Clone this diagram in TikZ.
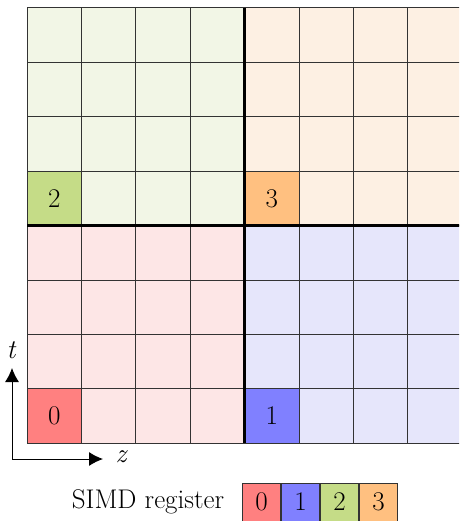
\documentclass[tikz,border=0pt]{standalone}
\usetikzlibrary{arrows.meta}
\definecolor{lgreen}{RGB}{242,246,230}
\definecolor{lorange}{RGB}{253,240,227}
\definecolor{lpink}{RGB}{253,230,230}
\definecolor{lblue}{RGB}{230,230,251}
\definecolor{sred}{RGB}{255,128,128}
\definecolor{sblue}{RGB}{128,128,255}
\definecolor{sgreen}{RGB}{197,220,135}
\definecolor{sorange}{RGB}{255,192,128}
\tikzset{
  lbl/.style={font=\rmfamily\fontsize{27}{32}\selectfont, inner sep=0pt},
  gridline/.style={line width=1pt, black!80},
  thickline/.style={line width=2.6pt, black},
  regbox/.style={draw=black!80, line width=1pt, minimum width=38pt, minimum height=38pt, inner sep=0pt, font=\rmfamily\fontsize{27}{32}\selectfont},
  axis/.style={line width=1pt, -{Latex[length=14pt,width=14pt]}}
}
\begin{document}
\begin{tikzpicture}[x=1pt,y=-1pt]
\useasboundingbox (0,0) rectangle (459,521);
\clip (0,0) rectangle (459,521);
\def\s{54.4}
% quadrants
\fill[lgreen] (27,8) rectangle ++(4*\s,4*\s);
\fill[lorange] (27+4*\s,8) rectangle ++(4*\s,4*\s);
\fill[lpink] (27,8+4*\s) rectangle ++(4*\s,4*\s);
\fill[lblue] (27+4*\s,8+4*\s) rectangle ++(4*\s,4*\s);
% strong cells
\fill[sgreen] (27,8+3*\s) rectangle ++(\s,\s);
\fill[sorange] (27+4*\s,8+3*\s) rectangle ++(\s,\s);
\fill[sred] (27,8+7*\s) rectangle ++(\s,\s);
\fill[sblue] (27+4*\s,8+7*\s) rectangle ++(\s,\s);
% grid
\foreach \i in {0,...,8} {
  \draw[gridline] (27+\i*\s,8) -- (27+\i*\s,8+8*\s);
  \draw[gridline] (27,8+\i*\s) -- (27+8*\s,8+\i*\s);
}
\draw[thickline] (27+4*\s,8) -- (27+4*\s,8+8*\s);
\draw[thickline] (27,8+4*\s) -- (27+8*\s,8+4*\s);
% labels
\node[lbl] (c2) at (27+0.5*\s,8+3.5*\s) {2};
\node[lbl] (c3) at (27+4.5*\s,8+3.5*\s) {3};
\node[lbl] (c0) at (27+0.5*\s,8+7.5*\s) {0};
\node[lbl] (c1) at (27+4.5*\s,8+7.5*\s) {1};
% axes
\coordinate (o) at (12,459);
\coordinate (tz) at (103,459);
\coordinate (tt) at (12,368);
\draw[axis] (o) -- (tt);
\draw[axis] (o) -- (tz);
\node[lbl, font=\rmfamily\fontsize{27}{32}\selectfont\itshape] (zl) at (121,457) {z};
\node[lbl, font=\rmfamily\fontsize{27}{32}\selectfont\itshape] (tl) at (11,350) {t};
% register
\node[lbl] (simd) at (148,502) {SIMD register};
\node[regbox, fill=sred] (r0) at (261.5,502) {0};
\node[regbox, fill=sblue, anchor=west] (r1) at (r0.east) {1};
\node[regbox, fill=sgreen, anchor=west] (r2) at (r1.east) {2};
\node[regbox, fill=sorange, anchor=west] (r3) at (r2.east) {3};
\end{tikzpicture}
\end{document}
